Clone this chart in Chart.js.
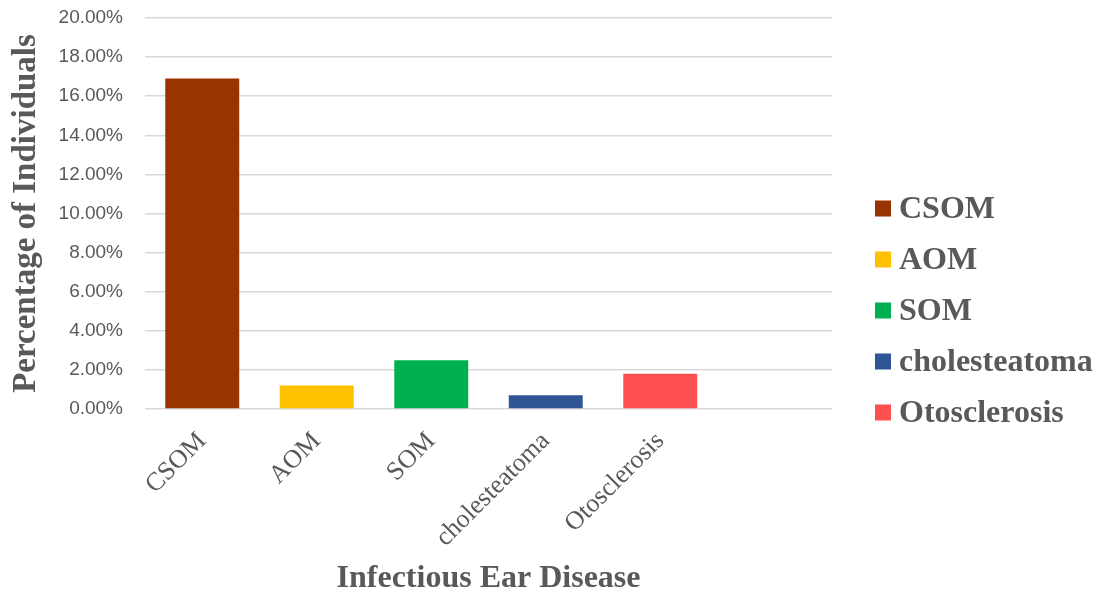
<!DOCTYPE html>
<html>
<head>
<meta charset="utf-8">
<title>Infectious Ear Disease</title>
<script src="https://cdn.jsdelivr.net/npm/chart.js@4.4.1/dist/chart.umd.min.js"></script>
<style>
  html, body { margin: 0; padding: 0; background: #ffffff; }
  #wrap { width: 1103px; height: 595px; }
</style>
</head>
<body>
<div id="wrap"><canvas id="chart" width="1103" height="595"></canvas></div>
<script>
// Disease categories (the trailing empty slot keeps a blank column at the right)
const categories = ['CSOM', 'AOM', 'SOM', 'cholesteatoma', 'Otosclerosis', ''];
// Share of individuals per disease, in percent
const percentages = [16.9, 1.2, 2.5, 0.7, 1.8, null];
// Fill colour per disease
const barColors = ['#993300', '#FFC000', '#00B050', '#2F5597', '#FF5050', '#ffffff'];
// Value-axis range and step, in percent
const yMin = 0;
const yMax = 20;
const yStep = 2;

const textColor = '#595959';
const gridColor = '#d9d9d9';

// Legend drawn to the right of the plot, one square swatch per disease
const sideLegend = {
  id: 'sideLegend',
  afterDraw(chart) {
    const ctx = chart.ctx;
    const area = chart.chartArea;
    const items = categories.filter(c => c !== '');
    const rowGap = 51;
    const box = 16;
    const x0 = area.right + 43;
    const midY = chart.height / 2 + 13;
    const startY = midY - rowGap * (items.length - 1) / 2;
    ctx.save();
    ctx.font = 'bold 32px "Liberation Serif", "Times New Roman", serif';
    ctx.textBaseline = 'middle';
    ctx.textAlign = 'left';
    items.forEach((name, i) => {
      const cy = startY + i * rowGap;
      ctx.fillStyle = barColors[i];
      ctx.fillRect(x0, cy - box / 2, box, box);
      ctx.fillStyle = textColor;
      ctx.fillText(name, x0 + box + 8, cy + 1);
    });
    ctx.restore();
  }
};

new Chart(document.getElementById('chart'), {
  type: 'bar',
  data: {
    labels: categories,
    datasets: [{
      label: 'Percentage of Individuals',
      data: percentages,
      backgroundColor: barColors,
      borderWidth: 0,
      barPercentage: 0.646,
      categoryPercentage: 1.0
    }]
  },
  options: {
    responsive: false,
    animation: false,
    layout: { padding: { top: 18, right: 271, bottom: 0, left: 0 } },
    plugins: {
      legend: { display: false },
      tooltip: { enabled: false }
    },
    scales: {
      x: {
        grid: { display: false, drawTicks: false },
        border: { display: false },
        ticks: {
          color: textColor,
          font: { family: '"Liberation Serif", "Times New Roman", serif', size: 26 },
          minRotation: 45,
          maxRotation: 45,
          padding: 17,
          autoSkip: false
        },
        title: {
          display: true,
          text: 'Infectious Ear Disease',
          color: textColor,
          font: { family: '"Liberation Serif", "Times New Roman", serif', size: 32, weight: 'bold', lineHeight: 1 },
          padding: 0
        },
        afterFit(scale) { scale.height = 186; }
      },
      y: {
        min: yMin,
        max: yMax,
        grid: { color: gridColor, lineWidth: 1.5, drawTicks: false },
        border: { display: false },
        ticks: {
          stepSize: yStep,
          color: textColor,
          padding: 22,
          font: { family: '"Liberation Sans", Arial, sans-serif', size: 19 },
          callback: v => v.toFixed(2) + '%'
        },
        title: {
          display: true,
          text: 'Percentage of Individuals',
          color: textColor,
          font: { family: '"Liberation Serif", "Times New Roman", serif', size: 33, weight: 'bold', lineHeight: 1 },
          padding: { top: 10, bottom: 0 }
        },
        afterFit(scale) {
          scale.width = 145;
          scale.paddingTop = 0;
          scale.paddingBottom = 0;
        }
      }
    }
  },
  plugins: [sideLegend]
});
</script>
</body>
</html>
